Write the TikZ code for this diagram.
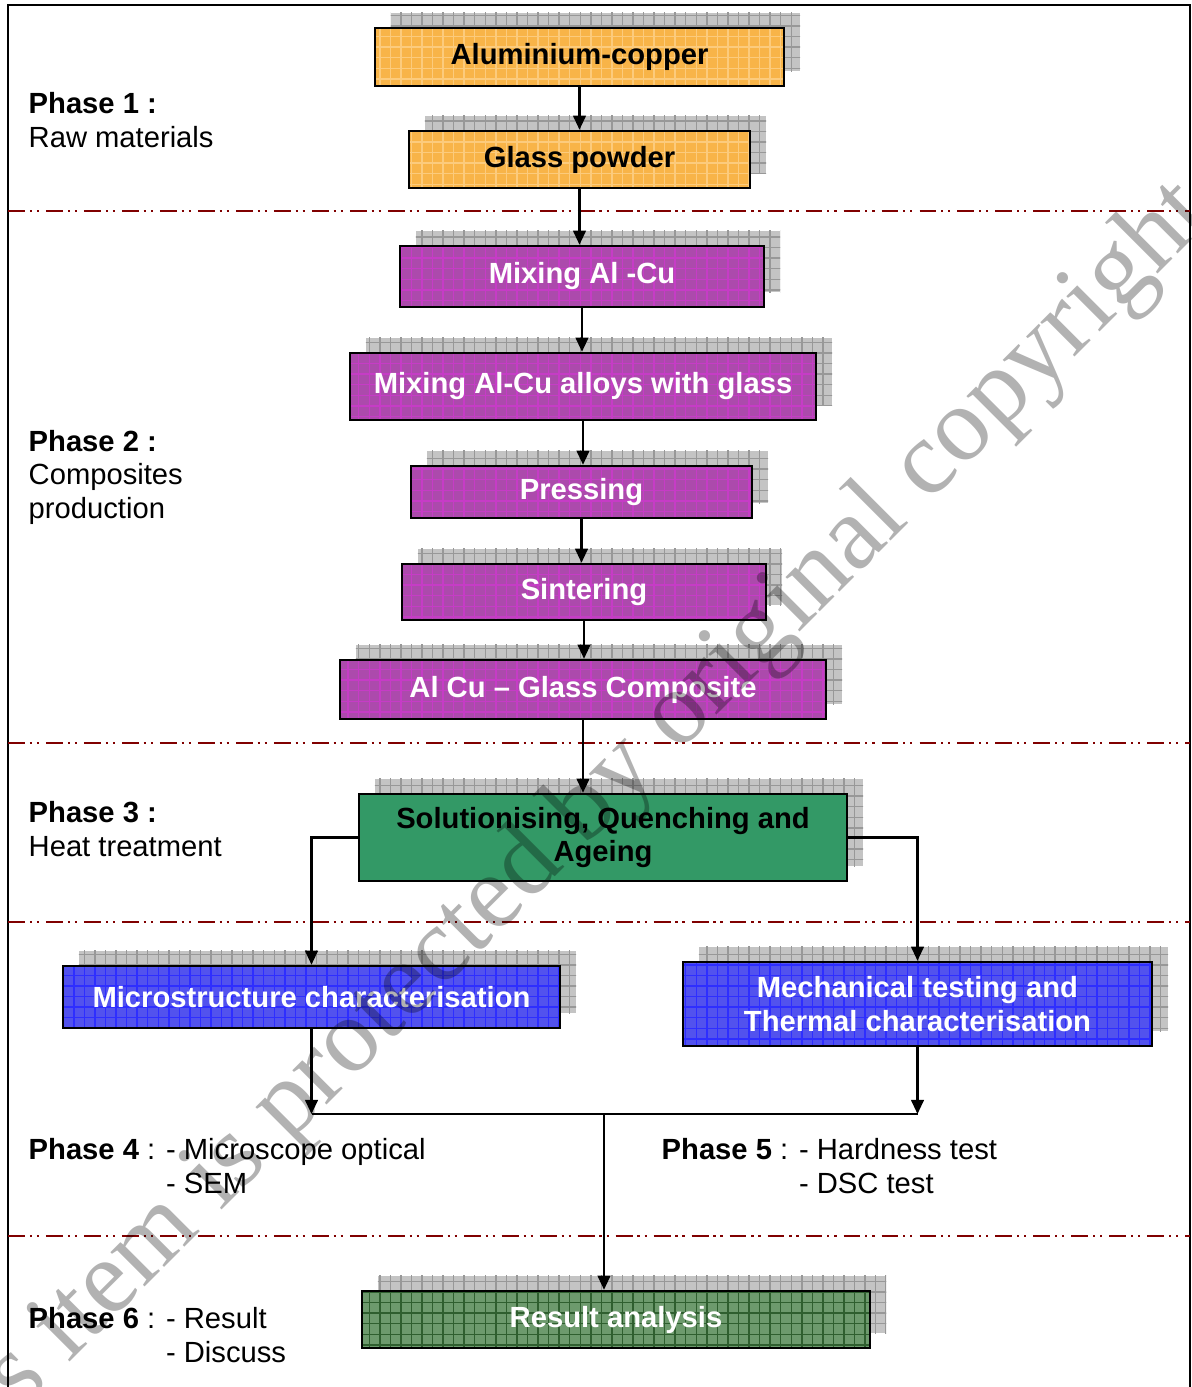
\documentclass[tikz,border=0pt]{standalone}
\usepackage{fontspec}
\setmainfont{Liberation Sans}
\newfontfamily\wmfont{Liberation Serif}
\usetikzlibrary{positioning,arrows.meta,shadows,patterns}
\definecolor{rawfill}{HTML}{F8B448}
\definecolor{rawgrid}{HTML}{FCCB7C}
\definecolor{mixfill}{HTML}{AC4AAC}
\definecolor{mixgrid}{HTML}{C63CC6}
\definecolor{heatfill}{HTML}{339966}
\definecolor{charfill}{HTML}{5252EE}
\definecolor{chargrid}{HTML}{2E2EFF}
\definecolor{resfill}{HTML}{6D9A6D}
\definecolor{resgrid}{HTML}{2F5F2F}
\definecolor{shadowgray}{HTML}{C4C4C4}
\definecolor{shadowgrid}{HTML}{989898}
\definecolor{sepred}{HTML}{800000}
\tikzset{
  flowarrow/.style={-{Triangle[length=4pt,width=3.6pt]}, line width=0.6pt},
  plainline/.style={line width=0.6pt},
  frameline/.style={line width=0.6pt},
  phaseline/.style={draw=sepred, line width=0.8pt, dash pattern=on 4.8pt off 1.4pt on 0.6pt off 1.4pt on 0.6pt off 2pt},
  stepbox/.style={draw, line width=0.7pt, align=center, inner sep=0pt,
    font=\fontsize{8.3}{9.6}\selectfont\bfseries,
    general shadow={fill=shadowgray, shadow xshift=0.16cm, shadow yshift=0.15cm,
      postaction={pattern=grid, pattern color=shadowgrid}}},
  rawbox/.style={stepbox, preaction={fill=rawfill}, preaction={pattern=grid, pattern color=rawgrid}},
  mixbox/.style={stepbox, text=white, preaction={fill=mixfill}, preaction={pattern=grid, pattern color=mixgrid}},
  heatbox/.style={stepbox, preaction={fill=heatfill}},
  charbox/.style={stepbox, text=white, preaction={fill=charfill}, preaction={pattern=grid, pattern color=chargrid}},
  resbox/.style={stepbox, text=white, preaction={fill=resfill}, preaction={pattern=grid, pattern color=resgrid}},
  phaselabel/.style={anchor=base west, align=left, inner sep=0pt, font=\fontsize{8.3}{9.5}\selectfont},
  watermark/.style={font=\wmfont\fontsize{30}{30}\selectfont, text=black, text opacity=0.3, inner sep=0pt}
}

\begin{document}
\begin{tikzpicture}[x=0.01cm, y=-0.01cm]
  \path[use as bounding box] (0,0) rectangle (1192,1387);
  \clip (0,0) rectangle (1192,1387);

  \draw[frameline] (8,1400) -- (8,5) -- (1190,5) -- (1190,1400);
  \foreach \yy in {211,743,922,1236}
    \draw[phaseline] (8,\yy) -- (1190,\yy);

  % phase labels
  \node[phaselabel] (ph1) at (28,147) {\textbf{Phase 1 :}\\Raw materials};
  \node[phaselabel] (ph2) at (28,518) {\textbf{Phase 2 :}\\Composites\\production};
  \node[phaselabel] (ph3) at (28,856) {\textbf{Phase 3 :}\\Heat treatment};
  \node[phaselabel] (ph4) at (28,1193) {\textbf{Phase 4} : - Microscope optical\\\phantom{\textbf{Phase 4} : }- SEM};
  \node[phaselabel] (ph5) at (661,1193) {\textbf{Phase 5} : - Hardness test\\\phantom{\textbf{Phase 5} : }- DSC test};
  \node[phaselabel] (ph6) at (28,1362) {\textbf{Phase 6} : - Result\\\phantom{\textbf{Phase 6} : }- Discuss};

  % process boxes
  \node[rawbox, minimum width=4.09cm, minimum height=0.58cm] (alcu) at (579.5,57) {Aluminium-copper};
  \node[rawbox, minimum width=3.41cm, minimum height=0.57cm] (glass) at (579.5,159.5) {Glass powder};
  \node[mixbox, minimum width=3.64cm, minimum height=0.61cm] (mixalcu) at (582,276.5) {Mixing Al -Cu};
  \node[mixbox, minimum width=4.66cm, minimum height=0.67cm] (mixglass) at (583,386.5) {Mixing Al-Cu alloys with glass};
  \node[mixbox, minimum width=3.41cm, minimum height=0.52cm] (press) at (581.5,492) {Pressing};
  \node[mixbox, minimum width=3.64cm, minimum height=0.56cm] (sinter) at (584,592) {Sintering};
  \node[mixbox, minimum width=4.86cm, minimum height=0.59cm] (compo) at (583,689.5) {Al Cu -- Glass Composite};
  \node[heatbox, minimum width=4.88cm, minimum height=0.87cm] (heat) at (603,837.5) {Solutionising, Quenching and\\Ageing};
  \node[charbox, minimum width=4.97cm, minimum height=0.62cm] (micro) at (311.5,997) {Microstructure characterisation};
  \node[charbox, minimum width=4.69cm, minimum height=0.84cm] (mech) at (917.5,1004) {Mechanical testing and\\Thermal characterisation};
  \node[resbox, minimum width=5.08cm, minimum height=0.57cm] (result) at (616,1319.5) {Result analysis};
  \coordinate (join) at (604,1114);

  % connectors
  \draw[flowarrow] (alcu.south) -- (alcu.south |- glass.north);
  \draw[flowarrow] (glass.south) -- (glass.south |- mixalcu.north);
  \draw[flowarrow] (mixalcu.south) -- (mixalcu.south |- mixglass.north);
  \draw[flowarrow] (mixglass.south) -- (mixglass.south |- press.north);
  \draw[flowarrow] (press.south) -- (press.south |- sinter.north);
  \draw[flowarrow] (sinter.south) -- (sinter.south |- compo.north);
  \draw[flowarrow] (compo.south) -- (compo.south |- heat.north);
  \draw[flowarrow] (heat.west) -| (micro.north);
  \draw[flowarrow] (heat.east) -| (mech.north);
  \draw[flowarrow] (micro.south) -- (micro.south |- join);
  \draw[flowarrow] (mech.south) -- (mech.south |- join);
  \draw[plainline] (micro.south |- join) -- (mech.south |- join);
  \draw[flowarrow] (join) -- (join |- result.north);

  \node[watermark, rotate=45, anchor=base east] (wm) at (1215,217) {This item is protected by original copyright};
\end{tikzpicture}
\end{document}
